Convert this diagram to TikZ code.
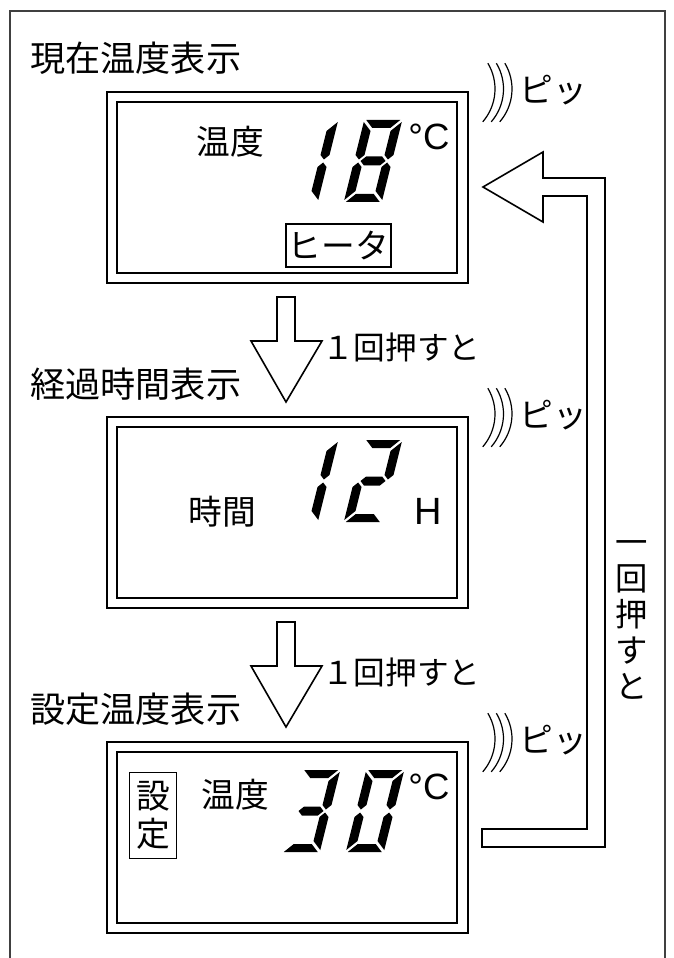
\documentclass[tikz,border=0pt]{standalone}
\usepackage{fontspec}
\setmainfont{Noto Sans CJK JP}
\newfontfamily\latinfont{Liberation Sans}

% LCD segments, local cell 38 x 82 px
\newcommand\lcda{\fill (-17,-41) -- (17,-41) -- (9,-33) -- (-9,-33) -- cycle;}
\newcommand\lcdb{\fill (19,-39) -- (10,-30) -- (10,-6) -- (14.5,-1.5) -- (19,-6) -- cycle;}
\newcommand\lcdc{\fill (19,39) -- (10,30) -- (10,6) -- (14.5,1.5) -- (19,6) -- cycle;}
\newcommand\lcdd{\fill (-17,41) -- (17,41) -- (9,33) -- (-9,33) -- cycle;}
\newcommand\lcde{\fill (-19,39) -- (-10,30) -- (-10,6) -- (-14.5,1.5) -- (-19,6) -- cycle;}
\newcommand\lcdf{\fill (-19,-39) -- (-10,-30) -- (-10,-6) -- (-14.5,-1.5) -- (-19,-6) -- cycle;}
\newcommand\lcdg{\fill (-12.5,0) -- (-8,-4.5) -- (8,-4.5) -- (12.5,0) -- (8,4.5) -- (-8,4.5) -- cycle;}
\newcommand\lcddigit[3]{%
  \begin{scope}[shift={(#1,#2)}, xslant=0.25]
    \foreach \s in {#3} {\csname lcd\s\endcsname}
  \end{scope}}

\begin{document}
\begin{tikzpicture}[x=0.025cm, y=-0.025cm,
    boxline/.style={line width=0.05cm},
    arrowline/.style={line width=0.04cm, fill=white},
    jptext/.style={inner sep=0pt, font=\fontsize{24}{28}\selectfont},
    jptitle/.style={inner sep=0pt, anchor=west, font=\fontsize{25}{29}\selectfont},
    jpsmall/.style={inner sep=0pt, font=\fontsize{22.5}{26}\selectfont},
    unittext/.style={inner sep=0pt, font=\latinfont\fontsize{26}{30}\selectfont}]
    \useasboundingbox (0,0) rectangle (673,958);
    \draw[line width=0.03cm, black!75] (10,958) -- (10,11) -- (665,11) -- (665,958);

    % panels, beep marks
    \foreach \y/\i in {92/1, 417/2, 742/3} {
        \draw[boxline] (107,\y) rectangle (468,\y+191);
        \draw[boxline] (117,\y+10) rectangle (457,\y+181);
        \node[jptext, anchor=west] (beep\i) at (519,\y-2) {ピッ};
        \foreach \r in {0,8.5,17} {\draw[line width=0.03cm] (445+\r,\y-3) ++(-31:50) arc[start angle=-31, end angle=41, radius=50];}
    }

    \node[jptitle] (title1) at (30,58) {現在温度表示};
    \node[jptitle] (title2) at (30,384) {経過時間表示};
    \node[jptitle] (title3) at (30,709) {設定温度表示};

    % current temperature
    \node[jptext] (temp1) at (230,142) {温度};
    \lcddigit{309}{161}{b,c}
    \lcddigit{373}{161}{a,b,c,d,e,f,g}
    \node[unittext] (unit1) at (429,137) {°C};
    \node[jptext, draw, line width=0.03cm, minimum width=2.625cm, minimum height=1.075cm] (heater) at (338.5,245.5) {ヒータ};

    % elapsed time
    \node[jptext] (time2) at (222,512) {時間};
    \lcddigit{309}{481}{b,c}
    \lcddigit{373}{481}{a,b,g,e,d}
    \node[unittext, font=\latinfont\fontsize{27}{30}\selectfont] (unit2) at (428,511) {H};

    % set temperature
    \node[jptext, draw, line width=0.025cm, align=center, minimum width=1.15cm, minimum height=2.125cm,
        font=\fontsize{24}{27}\selectfont] (setmark) at (153,815.5) {設\\定};
    \node[jptext] (temp3) at (235,795) {温度};
    \lcddigit{311}{811}{a,b,g,c,d}
    \lcddigit{375}{811}{a,b,c,d,e,f}
    \node[unittext] (unit3) at (429,787) {°C};

    % step arrows
    \foreach \y/\i in {297/1, 622/2} {
        \draw[arrowline] (277,\y) -- (295,\y) -- (295,\y+44) -- (322,\y+44) -- (286,\y+105)
            -- (251,\y+44) -- (277,\y+44) -- cycle;
        \node[jpsmall, anchor=west] (press\i) at (322,\y+50) {１回押すと};
    }

    % return arrow
    \draw[arrowline] (483,187) -- (543,152) -- (543,178) -- (605,178) -- (605,847) -- (482,847)
        -- (482,829) -- (587,829) -- (587,196) -- (543,196) -- (543,222) -- cycle;
    \node[jpsmall, align=center, font=\fontsize{23}{25.6}\selectfont] (back) at (632,620) {一\\回\\押\\す\\と};
\end{tikzpicture}
\end{document}
